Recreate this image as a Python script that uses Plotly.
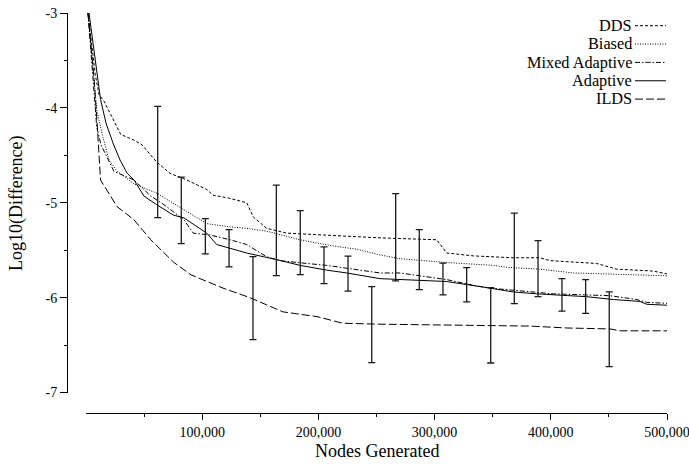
import plotly.graph_objects as go

# ---------------- data ----------------
dds_x = [1700, 5200, 8000, 11200, 15500, 21300, 29900, 41300, 48200, 60800, 72300, 86700,
         103900, 109300, 122500, 138300, 144000, 155500, 172700, 204200, 253000, 301800,
         310400, 333300, 367700, 390700, 399300, 439500, 456700, 488200, 500000]
dds_y = [-3.0, -3.40, -3.65, -3.86, -3.93, -4.07, -4.28, -4.34, -4.39, -4.57, -4.69, -4.76,
         -4.86, -4.92, -4.95, -5.00, -5.15, -5.27, -5.32, -5.34, -5.37, -5.39,
         -5.53, -5.56, -5.58, -5.58, -5.61, -5.64, -5.70, -5.72, -5.75]

biased_x = [1700, 5200, 9200, 14600, 19800, 26900, 41300, 61100, 84300, 103900, 121100,
            138300, 155500, 184200, 210000, 233000, 253000, 270200, 310400, 350500, 362000,
            390700, 419400, 500000]
biased_y = [-3.0, -3.49, -4.02, -4.31, -4.55, -4.67, -4.80, -4.90, -5.07, -5.22, -5.25,
            -5.27, -5.30, -5.39, -5.45, -5.49, -5.55, -5.59, -5.63, -5.66, -5.68,
            -5.70, -5.74, -5.77]

mixed_x = [1700, 5200, 9200, 12900, 17800, 24100, 41300, 55700, 67100, 84300, 92300, 106700,
           123900, 138300, 155500, 167000, 190000, 207100, 230000, 253000, 270200, 310400,
           333300, 347700, 402200, 451000, 474000, 482500, 500000]
mixed_y = [-3.0, -3.60, -4.20, -4.39, -4.52, -4.67, -4.76, -4.93, -5.02, -5.18, -5.32, -5.34,
           -5.39, -5.44, -5.57, -5.61, -5.64, -5.66, -5.70, -5.74, -5.74, -5.81,
           -5.87, -5.90, -5.96, -5.98, -6.02, -6.05, -6.06]

adaptive_x = [2600, 7700, 12500, 17200, 23200, 29300, 35500, 41300, 49900, 60800, 75100,
              84300, 103900, 112500, 123900, 138300, 164100, 184200, 207100, 224400, 253000,
              310400, 347700, 367700, 387900, 430900, 453800, 476800, 482500, 500000]
adaptive_y = [-3.0, -3.49, -3.91, -4.16, -4.37, -4.55, -4.69, -4.76, -4.93, -5.02, -5.13,
              -5.16, -5.32, -5.44, -5.48, -5.53, -5.60, -5.66, -5.71, -5.74, -5.80,
              -5.83, -5.90, -5.94, -5.96, -5.99, -6.02, -6.04, -6.07, -6.08]

ilds_x = [1700, 4000, 7000, 9500, 11200, 12500, 26700, 41300, 55700, 75700, 90400, 117900,
          141000, 169500, 198800, 221000, 253000, 382000, 414000, 451000, 459500, 500000]
ilds_y = [-3.0, -3.30, -3.70, -4.15, -4.45, -4.76, -5.04, -5.18, -5.39, -5.63, -5.76, -5.90,
          -6.00, -6.15, -6.20, -6.27, -6.28, -6.30, -6.32, -6.33, -6.35, -6.35]

bar_x = [61700, 82000, 102700, 123100, 143700, 163800, 184400, 204800, 225500, 245900,
         266500, 286800, 307200, 327600, 348300, 368600, 389000, 409600, 430000, 450300]
bar_top = [-3.985, -4.730, -5.167, -5.283, -5.568, -4.814, -5.082, -5.465, -5.563, -5.884,
           -4.903, -5.283, -5.637, -5.684, -5.895, -5.110, -5.399, -5.800, -5.810, -5.940]
bar_bottom = [-5.156, -5.430, -5.539, -5.676, -6.443, -5.768, -5.757, -5.852, -5.932, -6.686,
              -5.824, -5.916, -5.972, -6.045, -6.689, -6.063, -5.989, -6.143, -6.165, -6.728]

series_names = ["DDS", "Biased", "Mixed Adaptive", "Adaptive", "ILDS"]
x_tick_vals = [100000, 200000, 300000, 400000, 500000]
x_tick_text = ["100,000", "200,000", "300,000", "400,000", "500,000"]
x_minor_vals = [50000, 150000, 250000, 350000, 450000]
y_tick_vals = [-3, -4, -5, -6, -7]
y_tick_text = ["-3", "-4", "-5", "-6", "-7"]
y_minor_vals = [-3.5, -4.5, -5.5, -6.5]

# ---------------- styles ----------------
FONT = "Liberation Serif, Times New Roman, serif"
dashes = ["3px,2px", "1px,1.5px", "5px,2px,1.5px,2px", "solid", "8px,3px"]
series = [(dds_x, dds_y), (biased_x, biased_y), (mixed_x, mixed_y),
          (adaptive_x, adaptive_y), (ilds_x, ilds_y)]

fig = go.Figure()
for (xs, ys), name, dash in zip(series, series_names, dashes):
    fig.add_trace(go.Scatter(x=xs, y=ys, mode="lines", name=name,
                             line=dict(color="black", width=1, dash=dash),
                             showlegend=False))

bar_mid = [(t + b) / 2 for t, b in zip(bar_top, bar_bottom)]
bar_half = [(t - b) / 2 for t, b in zip(bar_top, bar_bottom)]
fig.add_trace(go.Scatter(x=bar_x, y=bar_mid, mode="markers",
                         marker=dict(size=1, color="rgba(0,0,0,0)"),
                         error_y=dict(type="data", symmetric=True, array=bar_half,
                                      color="#1a1a1a", thickness=1.3, width=3.5),
                         showlegend=False))

# paper area: x 67..667 px, y 13..413 px
W, H = 689, 464
ml, mr, mt, mb = 67, 22, 13, 51
pw = W - ml - mr
ph = H - mt - mb

def px_to_paper_x(px):
    return (px - ml) / pw

def px_to_paper_y(py):
    return (H - mb - py) / ph

fig.update_layout(
    width=W, height=H,
    margin=dict(l=ml, r=mr, t=mt, b=mb, pad=0, autoexpand=False),
    paper_bgcolor="white", plot_bgcolor="white",
    font=dict(family=FONT, size=14, color="black"),
    xaxis=dict(domain=[px_to_paper_x(86), 1], range=[0, 500000],
               anchor="free", position=0, automargin=False,
               showline=True, linecolor="black", linewidth=1,
               showgrid=False, zeroline=False,
               tickmode="array", tickvals=x_tick_vals, ticktext=x_tick_text,
               ticks="outside", ticklen=6, tickwidth=1, tickcolor="black",
               ticklabeloverflow="allow",
               tickfont=dict(family=FONT, size=14, color="black"),
               minor=dict(tickmode="array", tickvals=x_minor_vals, ticks="outside",
                          ticklen=3, tickwidth=1, tickcolor="black", showgrid=False)),
    yaxis=dict(domain=[px_to_paper_y(392.5), 1], range=[-7, -3],
               anchor="free", position=0, automargin=False,
               showline=True, linecolor="black", linewidth=1,
               showgrid=False, zeroline=False,
               tickmode="array", tickvals=y_tick_vals, ticktext=y_tick_text,
               ticks="outside", ticklen=7, tickwidth=1, tickcolor="black",
               tickfont=dict(family=FONT, size=14, color="black"),
               minor=dict(tickmode="array", tickvals=y_minor_vals, ticks="outside",
                          ticklen=3.5, tickwidth=1, tickcolor="black", showgrid=False)),
)

# axis titles
fig.add_annotation(text="Nodes Generated", xref="paper", yref="paper",
                   x=px_to_paper_x(376.5), y=px_to_paper_y(451),
                   xanchor="center", yanchor="middle", showarrow=False,
                   font=dict(family=FONT, size=18, color="black"))
fig.add_annotation(text="Log10(Difference)", xref="paper", yref="paper",
                   x=px_to_paper_x(16), y=px_to_paper_y(203),
                   xanchor="center", yanchor="middle", textangle=-90, showarrow=False,
                   font=dict(family=FONT, size=18, color="black"))

# legend (text right-aligned, line sample to the right)
legend_rows = [25.3, 43.65, 62.0, 80.35, 98.7]
for name, dash, ry in zip(series_names, dashes, legend_rows):
    fig.add_annotation(text=name, xref="paper", yref="paper",
                       x=px_to_paper_x(632.5), y=px_to_paper_y(ry),
                       xanchor="right", yanchor="middle", showarrow=False,
                       borderpad=0,
                       font=dict(family=FONT, size=16.3, color="black"))
    fig.add_shape(type="line", xref="paper", yref="paper",
                  x0=px_to_paper_x(635), x1=px_to_paper_x(666),
                  y0=px_to_paper_y(ry + 0.4), y1=px_to_paper_y(ry + 0.4),
                  line=dict(color="black", width=1, dash=dash))

fig.write_html("out.html")
